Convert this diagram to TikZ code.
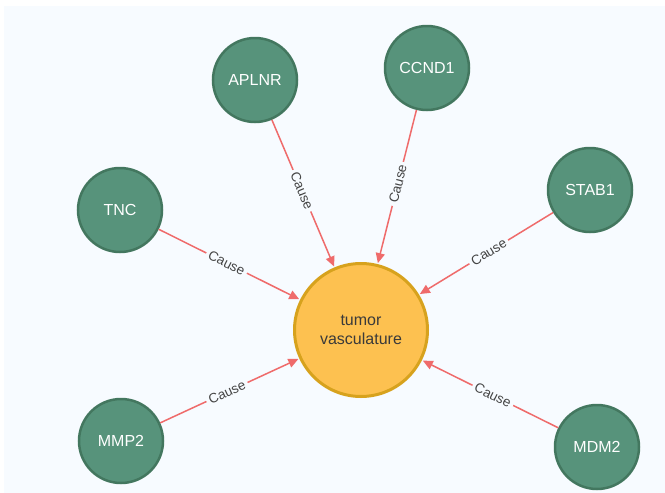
\documentclass[tikz,border=0pt]{standalone}
\usepackage{fontspec}
\setmainfont{Liberation Sans}
\usetikzlibrary{arrows.meta}
\definecolor{bgc}{HTML}{F7FBFF}
\definecolor{gfill}{HTML}{57937B}
\definecolor{gdraw}{HTML}{43775F}
\definecolor{ofill}{HTML}{FDC150}
\definecolor{odraw}{HTML}{D7A21D}
\definecolor{edgec}{HTML}{EF6B6B}
\definecolor{labc}{HTML}{444444}
\definecolor{ctext}{HTML}{3A3A3A}
\tikzset{
  gene/.style={circle, fill=gfill, draw=gdraw, line width=2.5pt, minimum size=84pt, inner sep=0pt, text=white, font=\fontsize{16}{19}\selectfont},
  disease/.style={circle, fill=ofill, draw=odraw, line width=3pt, minimum size=133pt, inner sep=0pt, text=ctext, align=center, font=\fontsize{16}{19}\selectfont},
  rel/.style={draw=edgec, line width=1.5pt, -{Triangle[length=10pt,width=9pt]}, shorten >=1pt},
  rellab/.style={sloped, fill=bgc, inner xsep=3pt, inner ysep=1pt, text=labc, font=\fontsize{13.5}{15}\selectfont, pos=0.48}
}
\begin{document}
\begin{tikzpicture}[x=1pt,y=-1pt]
\useasboundingbox (0,0) rectangle (665,493);
\fill[bgc] (4,6) rectangle (665,493);
\node[disease] (tv) at (361,330) {tumor\\vasculature};
\node[gene] (aplnr) at (255,80) {APLNR};
\node[gene] (ccnd1) at (427,68) {CCND1};
\node[gene] (tnc) at (120,210) {TNC};
\node[gene] (stab1) at (590,190) {STAB1};
\node[gene] (mmp2) at (121,441) {MMP2};
\node[gene] (mdm2) at (597,447) {MDM2};
\draw[rel] (aplnr) -- node[rellab] {Cause} (tv);
\draw[rel] (ccnd1) -- node[rellab] {Cause} (tv);
\draw[rel] (tnc) -- node[rellab] {Cause} (tv);
\draw[rel] (stab1) -- node[rellab] {Cause} (tv);
\draw[rel] (mmp2) -- node[rellab] {Cause} (tv);
\draw[rel] (mdm2) -- node[rellab] {Cause} (tv);
\end{tikzpicture}
\end{document}
